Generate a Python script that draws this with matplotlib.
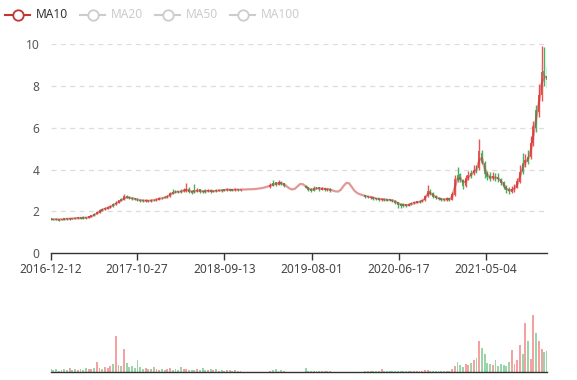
import numpy as np
import pandas as pd
import matplotlib
matplotlib.use('Agg')
import matplotlib.pyplot as plt
from matplotlib.lines import Line2D

plt.rcParams['font.family'] = ['Noto Sans', 'DejaVu Sans']

# ---------------------------------------------------------------------------
# Data: one candle every 10 calendar days starting 2016-12-12 (None = no trade)
N = None
start_date = '2016-12-12'
step_days = 10

closes = [1.63, 1.60, 1.60, 1.58, 1.63, 1.62, 1.63, 1.67, 1.65, 1.65,
          1.70, 1.67, 1.67, 1.69, 1.75, 1.81, 1.82, 1.94, 2.06, 2.04,
          2.13, 2.20, 2.24, 2.26, 2.40, 2.52, 2.53, 2.70, 2.68, 2.64,
          2.61, 2.59, 2.53, 2.51, 2.49, 2.53, 2.49, 2.54, 2.54, 2.59,
          2.63, 2.64, 2.65, 2.74, 2.85, 2.86, 2.94, 2.92, 2.92, 3.01,
          3.06, 2.95, 2.91, 2.92, 3.03, 2.96, 2.94, 2.95, 3.00, 2.96,
          2.97, 2.97, 3.02, 2.99, 2.99, 3.05, 3.01, 3.01, 3.06, 3.02,
          3.05, N, N, N, N, N, N, N, N, N,
          N, 3.26, 3.25, 3.29, 3.39, 3.31, 3.24, N, N, N,
          N, N, N, N, 3.14, 3.04, 3.00, 3.01, 3.13, 3.07,
          3.11, 3.04, 3.08, 3.01, N, N, N, N, N, N,
          N, N, N, N, N, N, 2.71, 2.69, 2.68, 2.61,
          2.60, 2.57, 2.59, 2.54, 2.53, 2.55, 2.50, 2.42, 2.33, 2.28,
          2.27, 2.27, 2.36, 2.36, 2.43, 2.46, 2.46, 2.53, 2.72, 2.97,
          2.84, 2.71, 2.66, 2.60, 2.57, 2.55, 2.61, 2.57, 2.80, 3.52,
          3.50, 3.52, 3.22, 3.58, 3.72, 3.70, 3.96, 3.94, 4.85, 4.35,
          3.78, 3.66, 3.58, 3.68, 3.60, 3.55, 3.38, 3.18, 3.02, 2.98,
          3.06, 3.14, 3.42, 3.88, 3.90, 4.42, 4.40, 5.25, 6.05, 6.00,
          7.55, 8.65, 8.48, 8.30]

opens = [1.66, 1.64, 1.64, 1.63, 1.59, 1.66, 1.66, 1.63, 1.68, 1.69,
         1.68, 1.71, 1.72, 1.72, 1.70, 1.76, 1.88, 1.90, 1.95, 2.11,
         2.12, 2.14, 2.21, 2.36, 2.37, 2.42, 2.57, 2.58, 2.73, 2.69,
         2.65, 2.62, 2.58, 2.54, 2.54, 2.50, 2.53, 2.50, 2.55, 2.56,
         2.58, 2.65, 2.69, 2.69, 2.74, 2.93, 2.96, 2.95, 2.98, 2.97,
         3.00, 3.08, 2.96, 2.99, 2.98, 3.04, 2.97, 2.99, 2.98, 3.01,
         2.95, 3.01, 3.00, 3.03, 3.04, 3.03, 3.06, 3.04, 3.03, 3.06,
         3.02, N, N, N, N, N, N, N, N, N,
         N, 3.18, 3.36, 3.37, 3.30, 3.40, 3.32, N, N, N,
         N, N, N, N, 3.20, 3.13, 3.05, 3.11, 3.10, 3.13,
         3.06, 3.10, 3.03, 3.07, N, N, N, N, N, N,
         N, N, N, N, N, N, 2.76, 2.72, 2.66, 2.67,
         2.62, 2.61, 2.56, 2.60, 2.56, 2.57, 2.55, 2.50, 2.42, 2.34,
         2.33, 2.33, 2.28, 2.41, 2.41, 2.44, 2.49, 2.49, 2.54, 2.73,
         2.98, 2.85, 2.72, 2.65, 2.61, 2.58, 2.55, 2.62, 2.58, 2.82,
         3.72, 3.75, 3.50, 3.24, 3.60, 3.82, 3.84, 4.05, 4.10, 4.80,
         4.30, 3.80, 3.68, 3.60, 3.66, 3.62, 3.54, 3.40, 3.16, 3.04,
         2.96, 3.05, 3.15, 3.44, 4.32, 4.35, 4.58, 4.60, 5.30, 6.82,
         6.75, 7.60, 8.70, 8.45]

highs = [1.70, 1.66, 1.67, 1.65, 1.66, 1.70, 1.68, 1.71, 1.70, 1.73,
         1.74, 1.73, 1.76, 1.74, 1.78, 1.85, 1.92, 2.00, 2.12, 2.18,
         2.22, 2.26, 2.33, 2.40, 2.48, 2.56, 2.62, 2.82, 2.78, 2.72,
         2.69, 2.66, 2.62, 2.60, 2.58, 2.58, 2.57, 2.60, 2.61, 2.64,
         2.68, 2.70, 2.74, 2.80, 2.92, 3.05, 3.02, 3.00, 3.06, 3.12,
         3.38, 3.15, 3.02, 3.30, 3.12, 3.08, 3.02, 3.06, 3.08, 3.05,
         3.03, 3.06, 3.08, 3.07, 3.09, 3.10, 3.09, 3.08, 3.11, 3.09,
         3.09, N, N, N, N, N, N, N, N, N,
         N, 3.35, 3.48, 3.42, 3.50, 3.44, 3.36, N, N, N,
         N, N, N, N, 3.24, 3.18, 3.10, 3.22, 3.18, 3.16,
         3.16, 3.13, 3.14, 3.10, N, N, N, N, N, N,
         N, N, N, N, N, N, 2.80, 2.76, 2.72, 2.70,
         2.66, 2.65, 2.63, 2.63, 2.60, 2.61, 2.58, 2.54, 2.46, 2.40,
         2.38, 2.36, 2.41, 2.46, 2.48, 2.51, 2.54, 2.58, 2.80, 3.28,
         3.05, 2.92, 2.78, 2.70, 2.66, 2.63, 2.68, 2.66, 2.92, 3.75,
         4.12, 3.82, 3.56, 3.72, 3.95, 3.98, 4.20, 4.22, 5.45, 4.95,
         4.40, 3.95, 3.88, 3.90, 3.85, 3.82, 3.62, 3.46, 3.25, 3.15,
         3.22, 3.30, 3.60, 4.20, 4.80, 4.75, 4.95, 5.60, 6.30, 7.10,
         8.10, 9.90, 9.85, 8.95]

lows = [1.60, 1.57, 1.58, 1.55, 1.57, 1.60, 1.60, 1.61, 1.62, 1.63,
        1.66, 1.65, 1.65, 1.66, 1.68, 1.74, 1.80, 1.87, 1.93, 2.01,
        2.07, 2.10, 2.17, 2.22, 2.33, 2.39, 2.49, 2.55, 2.62, 2.58,
        2.56, 2.55, 2.48, 2.47, 2.45, 2.46, 2.44, 2.47, 2.49, 2.52,
        2.56, 2.60, 2.62, 2.66, 2.71, 2.82, 2.88, 2.86, 2.88, 2.93,
        2.94, 2.90, 2.84, 2.88, 2.92, 2.90, 2.88, 2.90, 2.93, 2.90,
        2.91, 2.94, 2.96, 2.94, 2.96, 2.99, 2.97, 2.98, 3.00, 2.98,
        2.99, N, N, N, N, N, N, N, N, N,
        N, 3.14, 3.20, 3.22, 3.25, 3.26, 3.18, N, N, N,
        N, N, N, N, 3.10, 2.98, 2.92, 2.97, 3.05, 3.00,
        3.02, 2.98, 3.00, 2.95, N, N, N, N, N, N,
        N, N, N, N, N, N, 2.66, 2.63, 2.61, 2.55,
        2.54, 2.52, 2.52, 2.48, 2.49, 2.50, 2.45, 2.36, 2.18, 2.16,
        2.22, 2.20, 2.25, 2.32, 2.36, 2.39, 2.42, 2.46, 2.50, 2.68,
        2.78, 2.66, 2.60, 2.54, 2.51, 2.49, 2.52, 2.50, 2.55, 2.75,
        3.40, 3.42, 3.05, 3.18, 3.48, 3.62, 3.72, 3.85, 4.00, 4.25,
        3.62, 3.50, 3.45, 3.48, 3.46, 3.40, 3.26, 3.08, 2.88, 2.82,
        2.86, 2.95, 3.10, 3.35, 3.80, 4.10, 4.25, 4.50, 5.15, 5.80,
        6.50, 7.30, 8.00, 7.90]

volumes = [30, 20, 30, 15, 20, 30, 20, 40, 20, 30,
           20, 30, 20, 40, 30, 30, 40, 100, 40, 30,
           50, 40, 60, 80, 360, 70, 60, 230, 90, 50,
           60, 40, 120, 50, 30, 40, 30, 35, 50, 30,
           25, 30, 20, 30, 40, 25, 35, 20, 55, 30,
           30, 25, 20, 25, 30, 20, 45, 25, 20, 30,
           20, 30, 15, 20, 15, 20, 25, 15, 20, 15,
           15, N, N, N, N, N, N, N, N, N,
           N, 15, 20, 35, 15, 20, 15, N, N, N,
           N, N, N, N, 40, 15, 10, 15, 10, 15,
           15, 10, 10, 8, N, N, N, N, N, N,
           N, N, N, N, N, N, 10, 8, 10, 8,
           15, 10, 30, 8, 10, 8, 10, 12, 15, 10,
           8, 10, 12, 10, 15, 10, 12, 10, 20, 25,
           15, 10, 8, 12, 10, 8, 15, 10, 30, 60,
           100, 70, 50, 80, 70, 90, 120, 140, 310, 240,
           180, 90, 80, 70, 120, 60, 80, 70, 60, 100,
           220, 80, 120, 270, 180, 490, 310, 130, 570, 390,
           310, 230, 200, 210]

ma10 = [1.64, 1.63, 1.62, 1.62, 1.62, 1.63, 1.64, 1.65, 1.66, 1.67,
        1.68, 1.69, 1.69, 1.70, 1.72, 1.76, 1.83, 1.90, 1.99, 2.07,
        2.12, 2.16, 2.21, 2.29, 2.37, 2.45, 2.53, 2.62, 2.67, 2.66,
        2.63, 2.60, 2.57, 2.54, 2.52, 2.51, 2.51, 2.52, 2.54, 2.57,
        2.60, 2.63, 2.66, 2.71, 2.79, 2.88, 2.93, 2.94, 2.95, 2.99,
        3.02, 3.00, 2.95, 2.95, 2.99, 2.99, 2.96, 2.96, 2.98, 2.98,
        2.97, 2.98, 3.00, 3.01, 3.02, 3.04, 3.04, 3.03, 3.04, 3.04,
        3.04, 3.05, 3.05, 3.06, 3.06, 3.07, 3.08, 3.10, 3.12, 3.15,
        3.19, 3.23, 3.29, 3.32, 3.35, 3.34, 3.30, 3.20, 3.10, 3.05,
        3.08, 3.20, 3.31, 3.30, 3.20, 3.10, 3.04, 3.06, 3.10, 3.10,
        3.09, 3.08, 3.07, 3.05, 3.00, 2.96, 2.95, 3.04, 3.22, 3.36,
        3.35, 3.17, 2.99, 2.88, 2.82, 2.78, 2.74, 2.71, 2.69, 2.66,
        2.62, 2.60, 2.59, 2.57, 2.56, 2.55, 2.53, 2.48, 2.40, 2.33,
        2.31, 2.30, 2.31, 2.36, 2.40, 2.43, 2.46, 2.50, 2.62, 2.84,
        2.88, 2.78, 2.69, 2.63, 2.59, 2.57, 2.58, 2.58, 2.70, 3.15,
        3.55, 3.60, 3.40, 3.42, 3.62, 3.75, 3.88, 4.00, 4.45, 4.55,
        4.05, 3.75, 3.63, 3.62, 3.62, 3.58, 3.46, 3.28, 3.10, 3.00,
        3.02, 3.10, 3.28, 3.65, 4.08, 4.35, 4.50, 4.90, 5.65, 6.45,
        7.20, 8.10, 8.45, 8.40]

tick_labels = ['2016-12-12', '2017-10-27', '2018-09-13', '2019-08-01', '2020-06-17', '2021-05-04']
legend_names = ['MA10', 'MA20', 'MA50', 'MA100']
total_days = 1830
# ---------------------------------------------------------------------------

o = np.array(opens, dtype=float)
c = np.array(closes, dtype=float)
h = np.array(highs, dtype=float)
l = np.array(lows, dtype=float)
v = np.array(volumes, dtype=float)
ma = np.array(ma10, dtype=float)
days = np.arange(len(c)) * step_days

up_color = '#eb5454'
down_color = '#47b262'
colors = np.where(c >= o, up_color, down_color)
ok = ~np.isnan(c)

W, H = 577, 380
fig = plt.figure(figsize=(W / 100, H / 100), dpi=100)

# Main (price) panel
left, right = 50.7, 547.0
top, bottom = 44.0, 253.3
ax = fig.add_axes([left / W, 1 - bottom / H, (right - left) / W, (bottom - top) / H])
ax.set_xlim(0, total_days)
ax.set_ylim(0, 10)

ax.vlines(days[ok], l[ok], h[ok], colors=colors[ok], linewidth=1.0, zorder=2)
ax.bar(days[ok], np.abs(c[ok] - o[ok]) + 0.03, bottom=np.minimum(c[ok], o[ok]) - 0.015,
       width=7, color=colors[ok], linewidth=0, zorder=2)
ax.plot(days, ma, color='#c23531', alpha=0.5, linewidth=1.6, solid_joinstyle='round', zorder=3)

ax.set_yticks([0, 2, 4, 6, 8, 10])
for y in [2, 4, 6, 8, 10]:
    ax.axhline(y, color='#dcdcdc', linewidth=0.9, linestyle=(0, (4, 3.5)), zorder=0)

start = pd.Timestamp(start_date)
tick_pos = [(pd.Timestamp(t) - start).days for t in tick_labels]
ax.set_xticks(tick_pos)
ax.set_xticklabels(tick_labels)

for s in ['top', 'right', 'left']:
    ax.spines[s].set_visible(False)
ax.spines['bottom'].set_color('#333333')
ax.spines['bottom'].set_linewidth(1.0)
ax.tick_params(axis='x', length=5, width=1, color='#333333', labelsize=8.6, labelcolor='#444444', pad=2)
ax.tick_params(axis='y', length=0, labelsize=8.6, labelcolor='#555555', pad=8)

# Volume panel
vtop, vbottom = 300.0, 372.0
axv = fig.add_axes([left / W, 1 - vbottom / H, (right - left) / W, (vbottom - vtop) / H])
axv.set_xlim(0, total_days)
axv.set_ylim(0, 720)
axv.bar(days[ok], v[ok], width=7, color=colors[ok], alpha=0.55, linewidth=0)
for s in ['top', 'right', 'left']:
    axv.spines[s].set_visible(False)
axv.spines['bottom'].set_color('#333333')
axv.spines['bottom'].set_linewidth(1.0)
axv.set_xticks([])
axv.set_yticks([])

# Legend (drawn by hand, ECharts style)
leg_x = [5, 80, 155, 230]
for i, (name, x0) in enumerate(zip(legend_names, leg_x)):
    active = i == 0
    col = '#c23531' if active else '#cccccc'
    yy = 1 - 15 / H
    fig.add_artist(Line2D([x0 / W, (x0 + 25) / W], [yy, yy], color=col, linewidth=1.5,
                          transform=fig.transFigure))
    fig.add_artist(Line2D([(x0 + 12.5) / W], [yy], marker='o', markersize=7.5,
                          markerfacecolor='white', markeredgecolor=col, markeredgewidth=1.3,
                          linestyle='none', transform=fig.transFigure))
    fig.text((x0 + 30.5) / W, yy, name, fontsize=8.6, va='center', ha='left',
             color='#333333' if active else '#cccccc')

fig.savefig('out.png', dpi=100)
